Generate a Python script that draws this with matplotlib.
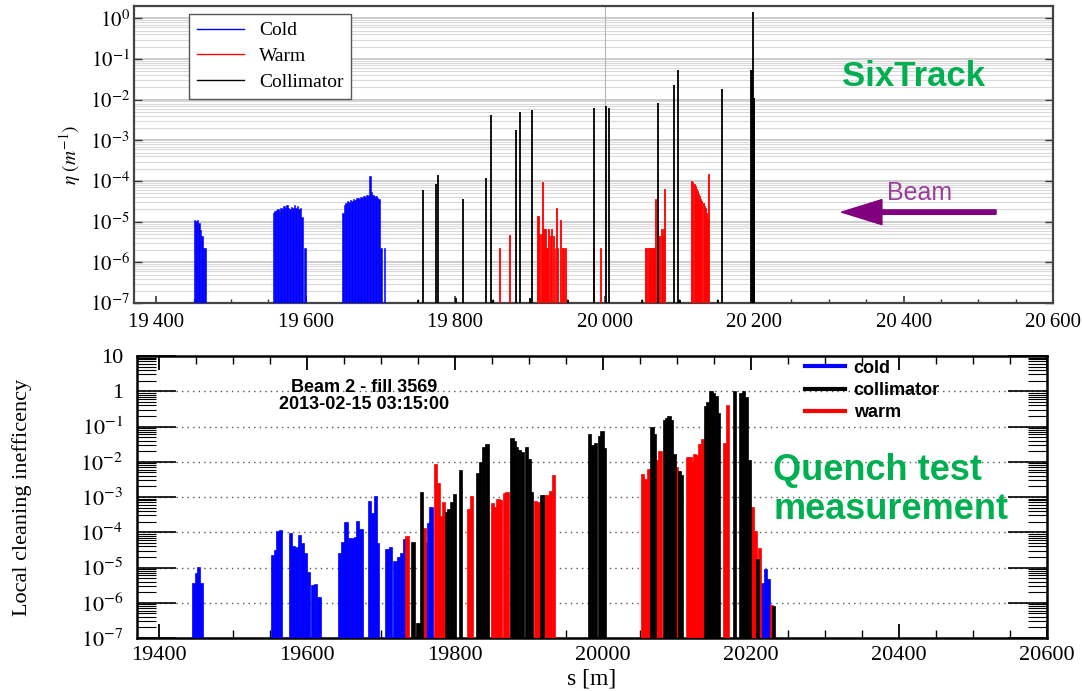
import numpy as np
import matplotlib
matplotlib.use('Agg')
import matplotlib.pyplot as plt
from matplotlib.lines import Line2D
from matplotlib.ticker import MultipleLocator, LogLocator, NullFormatter

plt.rcParams['font.family'] = ['Liberation Serif', 'DejaVu Serif']
plt.rcParams['mathtext.fontset'] = 'stix'

# ---------------- SixTrack simulation (top) ----------------
top_cold_s = [19451, 19453, 19455, 19457, 19459, 19461, 19463, 19465,
              19557, 19559, 19561, 19563, 19565, 19567, 19569, 19571, 19573, 19575,
              19577, 19579, 19581, 19583, 19585, 19587, 19589, 19591, 19593, 19595,
              19599,
              19650, 19652, 19654, 19656, 19658, 19660, 19662, 19664, 19666, 19668,
              19670, 19672, 19674, 19676, 19678, 19680, 19682, 19684, 19686, 19688,
              19690, 19692, 19694, 19696, 19698,
              19700.5, 19705.5]
top_cold_eta = [1.1e-5, 1.05e-5, 1.1e-5, 9e-6, 6.3e-6, 4.3e-6, 2.2e-6, 2.2e-6,
                1.6e-5, 1.8e-5, 1.9e-5, 2.0e-5, 1.8e-5, 2.2e-5, 2.0e-5, 2.4e-5, 2.1e-5, 2.5e-5,
                2.2e-5, 2.0e-5, 2.3e-5, 2.1e-5, 2.5e-5, 2.2e-5, 2.4e-5, 2.0e-5, 2.2e-5, 1.3e-5,
                2.2e-6,
                1.6e-5, 2.5e-5, 2.9e-5, 3.2e-5, 3.0e-5, 3.4e-5, 3.2e-5, 3.6e-5, 3.4e-5, 3.7e-5,
                3.9e-5, 3.6e-5, 4.0e-5, 3.9e-5, 4.2e-5, 4.1e-5, 4.4e-5, 4.3e-5, 1.35e-4, 5.3e-5,
                4.6e-5, 4.0e-5, 4.2e-5, 3.8e-5, 3.6e-5,
                2.2e-6, 2.2e-6]

top_warm_s = [19859.5, 19873.0,
              19910.3, 19911.8, 19913.3, 19914.8, 19916.2, 19917.7, 19919.2, 19920.7,
              19922.2, 19923.7, 19925.2, 19926.9, 19928.9, 19931.0, 19933.5, 19935.5,
              19937.0, 19940.9, 19943.5, 19945.3, 19947.0,
              19985.6, 19994.6,
              20055.0, 20056.5, 20058.0, 20059.5, 20061.0, 20062.5, 20064.0, 20065.5, 20067.0,
              20068.4, 20072.5, 20074.0, 20075.5, 20077.0, 20078.5, 20080.5,
              20116.6, 20118.1, 20119.6, 20121.1, 20122.6, 20124.1, 20125.6, 20127.1,
              20128.6, 20130.1, 20131.6, 20133.1, 20134.6, 20136.1, 20137.6, 20139.1]
top_warm_eta = [2.2e-6, 4.6e-6,
                1.35e-5, 1.35e-5, 4.8e-6, 4.8e-6, 9.6e-5, 6.6e-6, 6.6e-6, 6.6e-6,
                2.2e-6, 2.2e-6, 6.6e-6, 4.3e-6, 6.6e-6, 4.3e-6, 2.2e-6, 2.2e-5,
                2.2e-6, 1.1e-5, 2.2e-6, 2.2e-6, 2.2e-6,
                2.2e-6, 2.2e-6,
                2.2e-6, 2.2e-6, 2.2e-6, 2.2e-6, 2.2e-6, 2.2e-6, 2.2e-6, 2.2e-6, 2.2e-6,
                3.6e-5, 4.3e-6, 4.3e-6, 6.6e-6, 4.3e-6, 6.6e-6, 6.2e-5,
                1.0e-4, 9.6e-5, 8.5e-5, 7.4e-5, 6.5e-5, 5.5e-5, 4.8e-5, 4.2e-5,
                3.5e-5, 3.2e-5, 2.8e-5, 2.4e-5, 2.1e-5, 1.6e-5, 1.2e-5, 1.45e-4]

top_coll_s = [19750.7, 19756.6, 19774.5, 19776.7, 19800.4, 19809.8, 19840.7, 19847.8,
              19850.5, 19881.8, 19886.3, 19900.6, 19902.9, 19950.7, 19986.1, 20001.3,
              20005.8, 20050.5, 20071.5, 20093.0, 20097.5, 20100.6, 20151.2, 20156.5,
              20195.9, 20197.0, 20198.2, 20199.3, 20200.4]
top_coll_eta = [1.2e-7, 5.9e-5, 8.6e-5, 1.4e-4, 1.3e-7, 3.6e-5, 1.2e-4, 4.1e-3,
                1.2e-7, 1.8e-3, 4.9e-3, 1.3e-7, 5.6e-3, 1.2e-7, 6.3e-3, 7.1e-3,
                6.3e-3, 1.2e-7, 8.3e-3, 2.3e-2, 5.3e-2, 1.2e-7, 1.2e-7, 1.8e-2,
                5.3e-2, 5.3e-2, 1.4, 1.1e-2, 1.1e-2]

# ---------------- Quench test measurement (bottom) ----------------
bot_cold_s = [19446.3, 19450.2, 19453.5, 19456.5,
              19552.8, 19556.9, 19560.0, 19563.5,
              19578.0, 19581.8, 19585.6, 19589.7, 19593.5, 19597.8, 19602.3, 19606.8,
              19611.3, 19616.0,
              19644.1, 19648.6, 19652.6, 19657.2, 19661.6, 19665.0, 19668.4, 19672.9,
              19684.6, 19688.6, 19692.4, 19695.6,
              19708.0, 19712.6, 19718.7, 19723.7, 19728.2, 19731.8,
              19761.0, 19764.5, 19767.5,
              20215.6, 20219.5, 20223.8]
bot_cold_eta = [3.6e-6, 7e-6, 1.05e-5, 3.6e-6,
                2.2e-5, 3.1e-5, 1.1e-4, 1.15e-4,
                9.3e-5, 4.1e-5, 3.8e-5, 8.5e-5, 5e-5, 2.6e-5, 7.3e-6, 3e-6,
                3.2e-6, 1.35e-6,
                2.5e-5, 5.3e-5, 1.9e-4, 7e-5, 7e-5, 7.5e-5, 2.1e-4, 1.26e-4,
                7.9e-4, 3.5e-4, 1.05e-3, 4.8e-5,
                3.4e-5, 3.8e-5, 1.5e-5, 2e-5, 2.6e-5, 6.6e-5,
                4.8e-5, 1.8e-4, 5.1e-4,
                3.6e-6, 8.7e-6, 4.5e-6]

bot_warm_s = [19735.1, 19758.2, 19773.1, 19777.2, 19780.8, 19784.4,
              19818.1, 19822.2,
              19850.9, 19854.7, 19858.1, 19861.8, 19866.3, 19870.0,
              19909.0, 19913.0, 19921.0, 19924.6, 19928.7, 19933.0,
              20053.2, 20057.7, 20061.5, 20064.4, 20072.5, 20077.0, 20099.5,
              20114.2, 20117.4, 20120.5, 20123.6, 20127.2, 20130.6, 20134.3,
              20163.8, 20168.3,
              20201.8, 20205.3, 20211.5, 20227.2]
bot_warm_eta = [7.9e-5, 1.35e-4, 8.9e-3, 2.5e-3, 2.8e-4, 7.1e-4,
                4.6e-4, 1.05e-3,
                6.6e-4, 5.1e-4, 8.9e-4, 8e-4, 1.3e-3, 1.35e-3,
                7.9e-4, 7.2e-4, 1.15e-3, 1.15e-3, 1.5e-3, 4.1e-3,
                4.5e-3, 3.3e-3, 6.3e-3, 6.3e-3, 1.1e-2, 2e-2, 7e-3,
                1.4e-2, 1.4e-2, 1e-2, 1.7e-2, 1.55e-2, 3.1e-2, 4.4e-2,
                3.3e-2, 0.42,
                5.1e-4, 1.1e-4, 3.6e-5, 7.7e-7]

bot_coll_s = [19743.0, 19749.7, 19754.6,
              19788.5, 19791.3, 19794.7, 19798.7, 19807.3,
              19831.1, 19834.7, 19838.8, 19843.2,
              19877.0, 19880.5, 19882.4, 19886.9, 19891.2, 19896.8, 19900.3, 19902.6,
              19917.4,
              19981.2, 19985.7, 19990.2, 19994.7, 19998.5, 20002.2,
              20066.3, 20069.5,
              20082.8, 20085.6, 20089.1, 20092.3, 20096.3, 20103.0, 20106.5,
              20138.6, 20142.0, 20145.8, 20149.5, 20153.0, 20155.7,
              20178.0, 20185.8, 20190.3, 20194.3, 20197.8,
              20209.2, 20230.8]
bot_coll_eta = [5.4e-5, 1.7e-7, 1.37e-3,
                3.7e-4, 4.5e-4, 7.1e-4, 1.2e-3, 5.9e-3,
                4.7e-3, 9.6e-3, 2.7e-2, 3.2e-2,
                4.8e-2, 4e-2, 2.6e-2, 2.1e-2, 1.9e-2, 2.6e-2, 1.2e-2, 1.4e-3,
                1.15e-3,
                6e-2, 3e-2, 3.3e-2, 5.5e-2, 7.4e-2, 2.4e-2,
                0.1, 0.06,
                0.155, 0.18, 0.2, 0.155, 1.7e-2, 5.5e-3, 4.3e-3,
                0.37, 0.5, 1.0, 0.9, 0.75, 0.24,
                1.0, 0.9, 1.0, 0.7, 1.1e-2,
                1.7e-5, 6.9e-7]

BLUE, RED, BLACK = '#0000ff', '#ff0000', '#000000'
GREEN = '#00b050'
sans = ['Liberation Sans', 'DejaVu Sans']

fig = plt.figure(figsize=(10.82, 6.91), dpi=100)

# ======== top panel ========
ax1 = fig.add_axes([0.1238, 0.5615, 0.8494, 0.4298])
ax1.set_yscale('log')
ax1.set_xlim(19370, 20600)
ax1.set_ylim(1e-7, 2)
ax1.axvline(20000, color='#b5b5b5', lw=0.8, zorder=1)

ax1.bar(top_cold_s, top_cold_eta, width=2.0, bottom=1e-7, color=BLUE,
        edgecolor=BLUE, linewidth=0.4, zorder=3)
ax1.bar(top_warm_s, top_warm_eta, width=1.3, bottom=1e-7, color=RED,
        edgecolor=RED, linewidth=0.6, zorder=3)
ax1.vlines(top_coll_s, 1e-7, top_coll_eta, color=BLACK, lw=1.3, zorder=4)

ax1.set_yticks([10.0 ** k for k in range(-7, 1)])
ax1.set_yticklabels([r'$10^{%d}$' % k for k in range(-7, 1)])
ax1.yaxis.set_minor_locator(LogLocator(base=10, subs=np.arange(2, 10), numticks=20))
ax1.yaxis.set_minor_formatter(NullFormatter())
ax1.set_xticks(np.arange(19400, 20601, 200))
ax1.set_xticklabels(['%d\u2009%03d' % (v // 1000, v % 1000) for v in range(19400, 20601, 200)])
ax1.xaxis.set_minor_locator(MultipleLocator(50))
ax1.tick_params(axis='x', which='major', direction='in', length=5, width=1.2,
                labelsize=15, pad=7, colors='#333333', labelcolor='black')
ax1.tick_params(axis='x', which='minor', direction='in', length=3, width=1.0, colors='#333333')
ax1.tick_params(axis='y', which='major', direction='in', length=6, width=1.0,
                left=True, right=True, labelsize=15, pad=3, colors='#333333', labelcolor='black')
ax1.tick_params(axis='y', which='minor', length=0)
ax1.grid(axis='y', which='major', color='#c8c8c8', lw=1.3, zorder=0)
ax1.grid(axis='y', which='minor', color='#dadada', lw=0.8, zorder=0)
ax1.set_axisbelow(True)
for sp in ax1.spines.values():
    sp.set_color('#444444')
    sp.set_linewidth(1.6)

h1 = [Line2D([0], [0], color=BLUE, lw=1), Line2D([0], [0], color=RED, lw=1),
      Line2D([0], [0], color=BLACK, lw=1)]
leg1 = ax1.legend(h1, ['Cold', 'Warm', 'Collimator'], loc='upper left',
                  bbox_to_anchor=(0.06, 0.973), borderaxespad=0, fancybox=False,
                  edgecolor='#555555', framealpha=1, fontsize=14, handlelength=2.4,
                  labelspacing=0.42, borderpad=0.4)
leg1.get_frame().set_linewidth(1.0)

ax1.text(0.848, 0.761, 'SixTrack', transform=ax1.transAxes, ha='center', va='center',
         fontsize=25, fontweight='bold', color=GREEN, family=sans)
ax1.text(0.855, 0.37, 'Beam', transform=ax1.transAxes, ha='center', va='center',
         fontsize=18, color='#9b3d9b', family=sans)
ax1.annotate('', xy=(0.770, 0.306), xytext=(0.938, 0.306), xycoords='axes fraction',
             arrowprops=dict(arrowstyle='simple,head_length=1.45,head_width=0.9,tail_width=0.16',
                             color='#800080', mutation_scale=20, shrinkA=0, shrinkB=0))

fig.text(70 / 1082, 1 - 155 / 691, r'$\eta\ (m^{-1})$', rotation=90,
         ha='center', va='center', fontsize=14)

# ======== bottom panel ========
ax2 = fig.add_axes([0.1266, 0.0767, 0.841, 0.4081])
ax2.set_yscale('log')
ax2.set_xlim(19370, 20600)
ax2.set_ylim(1e-7, 10)

bw = 4.4
ax2.bar(bot_cold_s, bot_cold_eta, width=bw, bottom=1e-7, color=BLUE,
        edgecolor=BLUE, linewidth=0.5, zorder=3)
ax2.bar(bot_warm_s, bot_warm_eta, width=bw, bottom=1e-7, color=RED,
        edgecolor=RED, linewidth=0.5, zorder=3)
ax2.bar(bot_coll_s, bot_coll_eta, width=bw, bottom=1e-7, color=BLACK,
        edgecolor=BLACK, linewidth=0.5, zorder=3)

ylab = [r'$10^{%d}$' % k for k in range(-7, 0)] + ['1', '10']
ax2.set_yticks([10.0 ** k for k in range(-7, 2)])
ax2.set_yticklabels(ylab)
ax2.yaxis.set_minor_locator(LogLocator(base=10, subs=np.arange(2, 10), numticks=20))
ax2.yaxis.set_minor_formatter(NullFormatter())
ax2.set_xticks(np.arange(19400, 20601, 200))
ax2.set_xticklabels([str(v) for v in range(19400, 20601, 200)])
ax2.xaxis.set_minor_locator(MultipleLocator(50))
ax2.tick_params(axis='x', which='major', direction='in', length=10, width=1.3,
                top=True, bottom=True, labelsize=16, pad=6)
ax2.tick_params(axis='x', which='minor', direction='in', length=6, width=1.0,
                top=True, bottom=True)
ax2.tick_params(axis='y', which='major', direction='in', length=28, width=1.2,
                left=True, right=True, labelsize=16, pad=10)
ax2.tick_params(axis='y', which='minor', direction='in', length=14, width=0.8,
                left=True, right=True)
for k in range(-6, 1):
    ax2.axhline(10.0 ** k, color='#555555', lw=1.0, ls=(0, (1, 3)), zorder=1)
for sp in ax2.spines.values():
    sp.set_color('black')
    sp.set_linewidth(1.8)

h2 = [Line2D([0], [0], color=BLUE, lw=3), Line2D([0], [0], color=BLACK, lw=3),
      Line2D([0], [0], color=RED, lw=3)]
ax2.legend(h2, ['cold', 'collimator', 'warm'], loc='upper left',
           bbox_to_anchor=(0.73, 1.0), borderaxespad=0, frameon=False,
           prop={'family': sans, 'weight': 'bold', 'size': 13},
           handlelength=2.2, handletextpad=0.5, labelspacing=0.3, borderpad=0.2)

ax2.text(0.2495, 0.858, 'Beam 2 - fill 3569\n2013-02-15 03:15:00', transform=ax2.transAxes,
         ha='center', va='center', multialignment='center', fontsize=13,
         fontweight='bold', family=sans, linespacing=1.05)
ax2.text(0.699, 0.525, 'Quench test\nmeasurement', transform=ax2.transAxes,
         ha='left', va='center', fontsize=26, fontweight='bold', color=GREEN,
         family=sans, linespacing=1.15)

ax2.set_xlabel('s [m]', fontsize=17, labelpad=2)
fig.text(22 / 1082, 1 - 497 / 691, 'Local cleaning inefficency', rotation=90,
         ha='center', va='center', fontsize=16)

fig.savefig('out.png', dpi=100)
